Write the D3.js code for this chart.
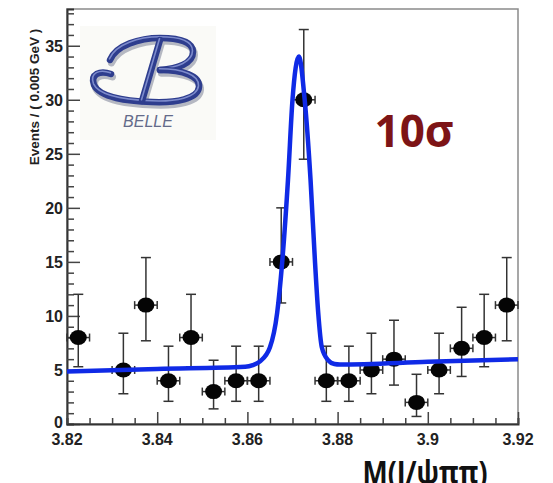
<!DOCTYPE html>
<html>
<head>
<meta charset="utf-8">
<script src="https://cdn.jsdelivr.net/npm/d3@7"></script>
<style>
  body { margin: 0; background: #fff; }
  svg { display: block; }
</style>
</head>
<body>
<div id="chart"></div>
<script>
// Data
const binCenters = [3.8225, 3.8325, 3.8375, 3.8425, 3.8475, 3.8525, 3.8575, 3.8625, 3.8675, 3.8725,
                    3.8775, 3.8825, 3.8875, 3.8925, 3.8975, 3.9025, 3.9075, 3.9125, 3.9175];
const events = [8, 5, 11, 4, 8, 3, 4, 4, 15, 30, 4, 4, 5, 6, 2, 5, 7, 8, 11];
const errLow = [2.7, 2.2, 3.3, 1.9, 2.7, 1.6, 1.9, 1.9, 3.8, 5.5, 1.9, 1.9, 2.2, 2.4, 1.3, 2.2, 2.6, 2.7, 3.3];
const errHigh = [4.0, 3.4, 4.4, 3.2, 4.0, 2.9, 3.2, 3.2, 5.0, 6.5, 3.2, 3.2, 3.4, 3.6, 2.6, 3.4, 3.8, 4.0, 4.4];

// Fit curve (mass, events)
const fitMass = [3.820, 3.840, 3.8595, 3.8612, 3.8628, 3.8650, 3.8666, 3.8677, 3.8690, 3.8700, 3.8714,
                 3.8727, 3.8740, 3.8750, 3.8757, 3.8765, 3.8779, 3.8793, 3.8805, 3.900, 3.920];
const fitEvents = [4.85, 5.1, 5.3, 5.45, 5.8, 7.1, 10.3, 14.9, 22.6, 30.0, 34.0,
                   30.0, 22.6, 14.9, 10.3, 7.1, 5.9, 5.55, 5.5, 5.75, 6.0];

const xTicks = [3.82, 3.84, 3.86, 3.88, 3.9, 3.92];
const yTicks = [0, 5, 10, 15, 20, 25, 30, 35];
const binHalfWidth = 0.0025;

const width = 553, height = 483;
const plot = { left: 67, right: 518, top: 9, bottom: 424 };

const svg = d3.select("#chart").append("svg")
    .attr("width", width)
    .attr("height", height);

const x = d3.scaleLinear().domain([3.82, 3.92]).range([plot.left, plot.right]);
const y = d3.scaleLinear().domain([0, 38.4]).range([plot.bottom, plot.top]);

// BELLE logo (decoration)
const logo = svg.append("g").attr("class", "logo");
logo.append("rect")
    .attr("x", 80).attr("y", 26).attr("width", 136).attr("height", 114)
    .attr("fill", "#f5f5f0").attr("opacity", 0.5);
const bPaths = [
  "M110,60 C116,45 140,38 160,38 C179,38 193,42 193,52 C193,63 178,69 160,70",
  "M160,70 C183,70 200,76 199,87 C198,99 176,103 152,102 C128,101 100,98 94,85 C90,74 100,70 111,74",
  "M160,40 C154,60 148,80 142,101"
];
bPaths.forEach(d => {
  logo.append("path").attr("d", d).attr("fill", "none")
      .attr("stroke", "#b5b8c2").attr("stroke-width", 7)
      .attr("stroke-linecap", "round").attr("transform", "translate(1.5,3)");
});
bPaths.forEach(d => {
  logo.append("path").attr("d", d).attr("fill", "none")
      .attr("stroke", "#2e3d8e").attr("stroke-width", 6.5)
      .attr("stroke-linecap", "round");
  logo.append("path").attr("d", d).attr("fill", "none")
      .attr("stroke", "#7d8bcc").attr("stroke-width", 1.6)
      .attr("stroke-linecap", "round").attr("transform", "translate(-0.5,-1.2)");
});
logo.append("text")
    .attr("x", 148).attr("y", 127)
    .attr("text-anchor", "middle")
    .attr("font-family", "Liberation Sans, Arial, sans-serif")
    .attr("font-style", "italic")
    .attr("font-size", 16)
    .attr("fill", "#646b8a")
    .text("BELLE");

// Frame
svg.append("rect")
    .attr("x", plot.left).attr("y", plot.top)
    .attr("width", plot.right - plot.left).attr("height", plot.bottom - plot.top)
    .attr("fill", "none").attr("stroke", "#8a8a8a").attr("stroke-width", 1.5);

// Left axis
const yAxis = d3.axisRight(y)
    .tickValues(d3.range(0, 39, 1))
    .tickSize(7)
    .tickFormat("");
svg.append("g")
    .attr("transform", `translate(${plot.left},0)`)
    .call(yAxis)
    .call(g => g.select(".domain").attr("stroke", "#333").attr("stroke-width", 2))
    .call(g => g.selectAll(".tick line").attr("stroke", "#444").attr("stroke-width", 1.5)
        .attr("x2", d => d % 5 === 0 ? 13 : 7));

svg.append("g")
    .selectAll("text")
    .data(yTicks)
    .join("text")
    .attr("x", plot.left - 4)
    .attr("y", d => y(d) + (d === 0 ? 4 : 6))
    .attr("text-anchor", "end")
    .attr("font-family", "Liberation Sans, Arial, sans-serif")
    .attr("font-weight", "bold")
    .attr("font-size", 16)
    .attr("fill", "#222")
    .text(d => d);

// Bottom axis
const xAxis = d3.axisTop(x)
    .tickValues(d3.range(0, 21).map(i => 3.82 + i * 0.005))
    .tickSize(6)
    .tickFormat("");
svg.append("g")
    .attr("transform", `translate(0,${plot.bottom})`)
    .call(xAxis)
    .call(g => g.select(".domain").attr("stroke", "#333").attr("stroke-width", 2))
    .call(g => g.selectAll(".tick line").attr("stroke", "#444").attr("stroke-width", 1.5)
        .attr("y2", (d, i) => i % 4 === 0 ? -12 : -6));

svg.append("g")
    .selectAll("text")
    .data(xTicks)
    .join("text")
    .attr("x", d => x(d))
    .attr("y", 445)
    .attr("text-anchor", "middle")
    .attr("font-family", "Liberation Sans, Arial, sans-serif")
    .attr("font-weight", "bold")
    .attr("font-size", 16)
    .attr("fill", "#222")
    .text(d => d3.format("")(+d.toFixed(2)));

// Axis titles
svg.append("text")
    .attr("transform", "translate(39,97) rotate(-90)")
    .attr("text-anchor", "middle")
    .attr("font-family", "Liberation Sans, Arial, sans-serif")
    .attr("font-weight", "bold")
    .attr("font-size", 13.5)
    .attr("fill", "#222")
    .text("Events / ( 0.005 GeV )");

svg.append("text")
    .attr("x", 425).attr("y", 484)
    .attr("text-anchor", "middle")
    .attr("font-family", "Open Sans, sans-serif")
    .attr("font-weight", "bold")
    .attr("font-size", 32)
    .attr("textLength", 125)
    .attr("lengthAdjust", "spacingAndGlyphs")
    .attr("fill", "#111")
    .text("M(J/ψππ)");

// Significance label
svg.append("text")
    .attr("x", 414).attr("y", 147)
    .attr("text-anchor", "middle")
    .attr("font-family", "Open Sans, sans-serif")
    .attr("font-weight", "bold")
    .attr("font-size", 44)
    .attr("fill", "#7d1416")
    .text("10σ");

// Data points
const pts = binCenters.map((m, i) => ({ m, n: events[i], lo: errLow[i], hi: errHigh[i] }));
const dataG = svg.append("g");
const errG = dataG.selectAll("g").data(pts).join("g")
    .attr("stroke", "#333").attr("stroke-width", 1.5);
errG.append("line")
    .attr("x1", d => x(d.m)).attr("x2", d => x(d.m))
    .attr("y1", d => y(d.n - d.lo)).attr("y2", d => y(d.n + d.hi));
errG.append("line")
    .attr("x1", d => x(d.m) - 5).attr("x2", d => x(d.m) + 5)
    .attr("y1", d => y(d.n + d.hi)).attr("y2", d => y(d.n + d.hi));
errG.append("line")
    .attr("x1", d => x(d.m) - 5).attr("x2", d => x(d.m) + 5)
    .attr("y1", d => y(d.n - d.lo)).attr("y2", d => y(d.n - d.lo));
errG.append("line")
    .attr("x1", d => x(d.m - binHalfWidth)).attr("x2", d => x(d.m + binHalfWidth))
    .attr("y1", d => y(d.n)).attr("y2", d => y(d.n));
errG.append("line")
    .attr("x1", d => x(d.m - binHalfWidth)).attr("x2", d => x(d.m - binHalfWidth))
    .attr("y1", d => y(d.n) - 4).attr("y2", d => y(d.n) + 4);
errG.append("line")
    .attr("x1", d => x(d.m + binHalfWidth)).attr("x2", d => x(d.m + binHalfWidth))
    .attr("y1", d => y(d.n) - 4).attr("y2", d => y(d.n) + 4);
dataG.selectAll("ellipse").data(pts).join("ellipse")
    .attr("cx", d => x(d.m)).attr("cy", d => y(d.n))
    .attr("rx", 8.5).attr("ry", 7.5)
    .attr("fill", "#050505");

// Fit curve
const fitLine = d3.line()
    .x(d => x(d[0]))
    .y(d => y(d[1]))
    .curve(d3.curveMonotoneX);
svg.append("path")
    .datum(fitMass.map((m, i) => [m, fitEvents[i]]))
    .attr("fill", "none")
    .attr("stroke", "#0f2ae6")
    .attr("stroke-width", 4.5)
    .attr("stroke-linejoin", "round")
    .attr("d", fitLine);
</script>
</body>
</html>
